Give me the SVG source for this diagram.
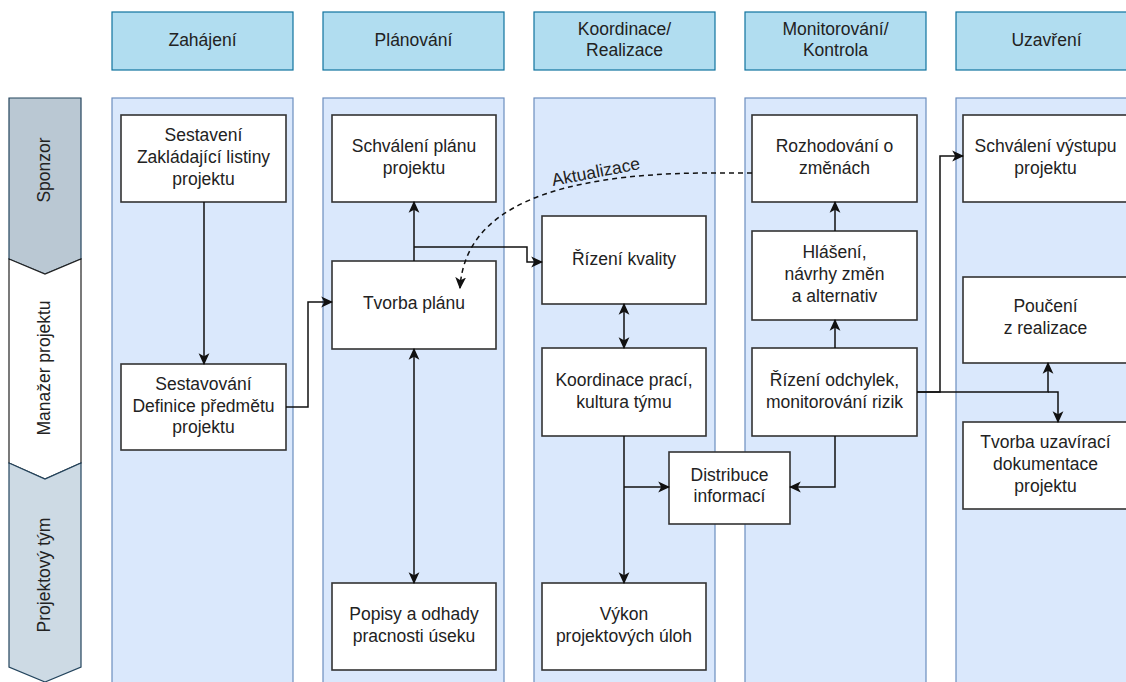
<svg xmlns="http://www.w3.org/2000/svg" width="1126" height="682" viewBox="0 0 1126 682">
  <style>
    .hdr { fill: #b1ddf0; stroke: #10739e; stroke-width: 1.2; }
    .col { fill: #dae8fc; stroke: #6c8ebf; stroke-width: 1.2; }
    .box { fill: #ffffff; stroke: #333333; stroke-width: 1.6; }
    .lane-a { fill: #bac8d3; stroke: #23445d; stroke-width: 1.2; }
    .lane-b { fill: #ffffff; stroke: #222222; stroke-width: 1.2; }
    .lane-c { fill: #cddae4; stroke: #23445d; stroke-width: 1.2; }
    text { font-family: "Liberation Sans", Arial, sans-serif; font-size: 17.5px; fill: #222222; text-anchor: middle; dominant-baseline: middle; }
    .edge { fill: none; stroke: #111111; stroke-width: 1.5; }
    .dash { fill: none; stroke: #111111; stroke-width: 1.5; stroke-dasharray: 5 4; }
  </style>
  <defs>
    <marker id="arr" viewBox="0 0 10 10" refX="9" refY="5" markerWidth="12" markerHeight="12" markerUnits="userSpaceOnUse" orient="auto-start-reverse">
      <path d="M0,0.5 L10,5 L0,9.5 L2.5,5 Z" fill="#111111"/>
    </marker>
  </defs>

  <!-- phase headers -->
  <g id="headers">
    <rect class="hdr" x="112" y="12" width="181" height="58"/>
    <text x="202.5" y="41">Zahájení</text>
    <rect class="hdr" x="323" y="12" width="181" height="58"/>
    <text x="413.5" y="41">Plánování</text>
    <rect class="hdr" x="534" y="12" width="181" height="58"/>
    <text x="624.5" y="30">Koordinace/</text>
    <text x="624.5" y="51">Realizace</text>
    <rect class="hdr" x="745" y="12" width="181" height="58"/>
    <text x="835.5" y="30">Monitorování/</text>
    <text x="835.5" y="51">Kontrola</text>
    <rect class="hdr" x="956" y="12" width="181" height="58"/>
    <text x="1046.5" y="41">Uzavření</text>
  </g>

  <!-- phase columns -->
  <g id="columns">
    <rect class="col" x="112" y="98" width="181" height="600"/>
    <rect class="col" x="323" y="98" width="181" height="600"/>
    <rect class="col" x="534" y="98" width="181" height="600"/>
    <rect class="col" x="745" y="98" width="181" height="600"/>
    <rect class="col" x="956" y="98" width="181" height="600"/>
  </g>

  <!-- role lanes -->
  <g id="lane-sponzor">
    <polygon class="lane-a" points="9,98 81,98 81,259 45,274 9,259"/>
    <text transform="translate(45,170) rotate(-90)">Sponzor</text>
  </g>
  <g id="lane-manazer">
    <polygon class="lane-b" points="9,259 45,274 81,259 81,463 45,479 9,463"/>
    <text transform="translate(45,368) rotate(-90)">Manažer projektu</text>
  </g>
  <g id="lane-tym">
    <polygon class="lane-c" points="9,463 45,479 81,463 81,667 45,682 9,667"/>
    <text transform="translate(45,575) rotate(-90)">Projektový tým</text>
  </g>

  <!-- process steps -->
  <g id="n-zakladajici">
    <rect class="box" x="121" y="115" width="165" height="87"/>
    <text x="203.5" y="136">Sestavení</text>
    <text x="203.5" y="158">Zakládající listiny</text>
    <text x="203.5" y="180">projektu</text>
  </g>
  <g id="n-definice">
    <rect class="box" x="121" y="364" width="165" height="86"/>
    <text x="203.5" y="385">Sestavování</text>
    <text x="203.5" y="407">Definice předmětu</text>
    <text x="203.5" y="428">projektu</text>
  </g>
  <g id="n-schvaleni-planu">
    <rect class="box" x="332" y="115" width="164" height="87"/>
    <text x="414" y="147">Schválení plánu</text>
    <text x="414" y="169">projektu</text>
  </g>
  <g id="n-tvorba-planu">
    <rect class="box" x="332" y="261" width="164" height="88"/>
    <text x="414" y="304">Tvorba plánu</text>
  </g>
  <g id="n-popisy">
    <rect class="box" x="332" y="583" width="164" height="87"/>
    <text x="414" y="615">Popisy a odhady</text>
    <text x="414" y="637">pracnosti úseku</text>
  </g>
  <g id="n-kvalita">
    <rect class="box" x="542" y="216" width="164" height="88"/>
    <text x="624" y="260">Řízení kvality</text>
  </g>
  <g id="n-koordinace">
    <rect class="box" x="542" y="348" width="164" height="88"/>
    <text x="624" y="381">Koordinace prací,</text>
    <text x="624" y="403">kultura týmu</text>
  </g>
  <g id="n-vykon">
    <rect class="box" x="542" y="583" width="164" height="87"/>
    <text x="624" y="615">Výkon</text>
    <text x="624" y="637">projektových úloh</text>
  </g>
  <g id="n-distribuce">
    <rect class="box" x="669" y="452" width="121" height="72"/>
    <text x="729.5" y="476">Distribuce</text>
    <text x="729.5" y="497">informací</text>
  </g>
  <g id="n-rozhodovani">
    <rect class="box" x="752" y="115" width="165" height="87"/>
    <text x="834.5" y="147">Rozhodování o</text>
    <text x="834.5" y="169">změnách</text>
  </g>
  <g id="n-hlaseni">
    <rect class="box" x="752" y="231" width="165" height="89"/>
    <text x="834.5" y="253">Hlášení,</text>
    <text x="834.5" y="275">návrhy změn</text>
    <text x="834.5" y="297">a alternativ</text>
  </g>
  <g id="n-odchylky">
    <rect class="box" x="752" y="348" width="165" height="88"/>
    <text x="834.5" y="381">Řízení odchylek,</text>
    <text x="834.5" y="403">monitorování rizik</text>
  </g>
  <g id="n-schvaleni-vystupu">
    <rect class="box" x="963" y="115" width="165" height="87"/>
    <text x="1045.5" y="147">Schválení výstupu</text>
    <text x="1045.5" y="169">projektu</text>
  </g>
  <g id="n-pouceni">
    <rect class="box" x="963" y="277" width="165" height="86"/>
    <text x="1045.5" y="307">Poučení</text>
    <text x="1045.5" y="329">z realizace</text>
  </g>
  <g id="n-uzaviraci">
    <rect class="box" x="963" y="422" width="165" height="87"/>
    <text x="1045.5" y="443">Tvorba uzavírací</text>
    <text x="1045.5" y="465">dokumentace</text>
    <text x="1045.5" y="487">projektu</text>
  </g>

  <!-- connectors (drawn over the steps so the dashed update arrow shows inside its target) -->
  <g id="connectors">
    <path class="edge" d="M204,202 V364" marker-end="url(#arr)"/>
    <path class="edge" d="M286,407 H308 V302 H332" marker-end="url(#arr)"/>
    <path class="edge" d="M414,261 V202" marker-end="url(#arr)"/>
    <path class="edge" d="M414,247 H527 V262 H542" marker-end="url(#arr)"/>
    <path class="edge" d="M414,349 V583" marker-start="url(#arr)" marker-end="url(#arr)"/>
    <path class="edge" d="M624,304 V348" marker-start="url(#arr)" marker-end="url(#arr)"/>
    <path class="edge" d="M624,436 V583" marker-end="url(#arr)"/>
    <path class="edge" d="M624,487 H669" marker-end="url(#arr)"/>
    <path class="edge" d="M835,436 V487 H790" marker-end="url(#arr)"/>
    <path class="edge" d="M835,348 V320" marker-end="url(#arr)"/>
    <path class="edge" d="M835,231 V202" marker-end="url(#arr)"/>
    <path class="edge" d="M917,392 H940 V156 H963" marker-end="url(#arr)"/>
    <path class="edge" d="M917,392 H1048 V363" marker-end="url(#arr)"/>
    <path class="edge" d="M1048,392 H1058 V422" marker-end="url(#arr)"/>
    <path class="dash" d="M752,173 H700 C560,175 465,205 460,288" marker-end="url(#arr)"/>
    <text transform="translate(596,173) rotate(-11)">Aktualizace</text>
  </g>
</svg>
